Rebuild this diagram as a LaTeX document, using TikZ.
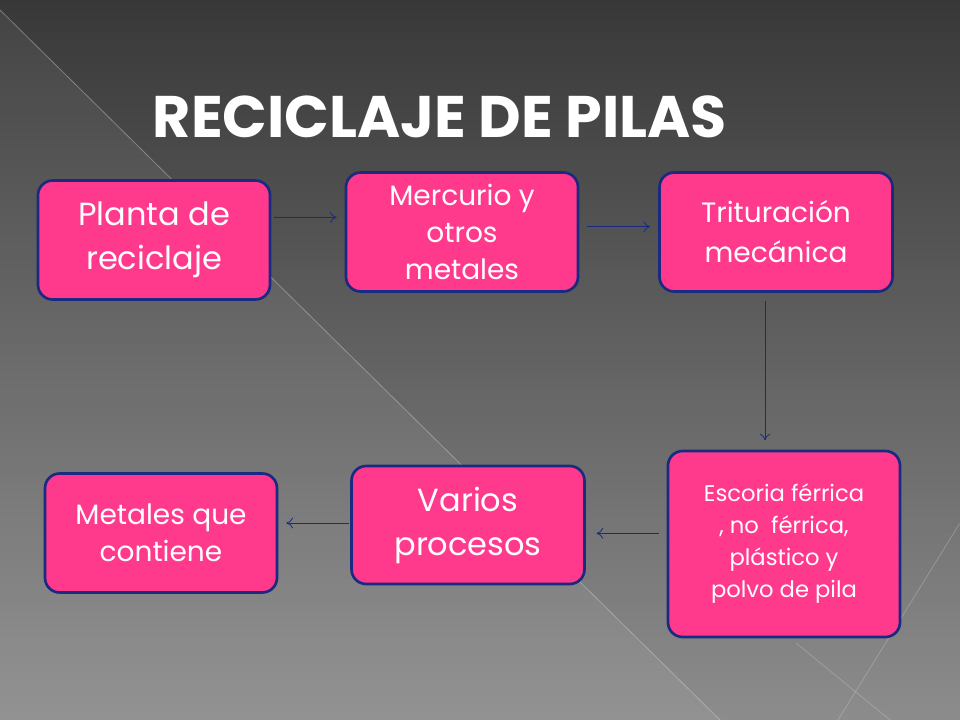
\documentclass[tikz,border=0pt]{standalone}
\usepackage{fontspec}
\setmainfont{Poppins}
\usetikzlibrary{calc,arrows.meta}
\definecolor{boxpink}{HTML}{FF3A8C}
\definecolor{boxline}{HTML}{1A2A80}
\tikzset{
  box/.style={draw=boxline, line width=2pt, fill=boxpink, rounded corners=11pt, text=white, align=center, inner sep=0pt, font=\fontsize{21}{28}\selectfont},
  arr/.style={draw=boxline, line width=0.6pt, -{To[length=5pt,width=8pt]}},
}
\begin{document}
\begin{tikzpicture}[x=0.75pt,y=-0.75pt]
\useasboundingbox (0,0) rectangle (960,720);
\shade[top color=black!78, bottom color=black!45] (0,0) rectangle (960,720);
\fill[white, opacity=0.06] (0,10) -- (720,720) -- (0,720) -- cycle;
\draw[white!70!gray, opacity=0.4, line width=0.6pt] (0,10) -- (720,720);
\draw[white!70!gray, opacity=0.3, line width=0.6pt] (960,523) -- (838,720);
\draw[white!70!gray, opacity=0.3, line width=0.6pt] (796,643) -- (890,720);
\node[text=white, font=\bfseries\fontsize{44}{48}\selectfont, anchor=center] (title) at (440,117) {RECICLAJE DE PILAS};
\node[box, minimum width=232*0.75pt, minimum height=119*0.75pt, font=\fontsize{24}{33}\selectfont] (pl) at (154,240) {Planta de\\reciclaje};
\node[box, minimum width=232*0.75pt, minimum height=119*0.75pt] (me) at (462,232) {Mercurio y\\otros\\metales};
\node[box, minimum width=233*0.75pt, minimum height=119*0.75pt, font=\fontsize{21}{30}\selectfont] (tr) at (776,232) {Trituración\\mecánica};
\node[box, minimum width=232*0.75pt, minimum height=186*0.75pt, font=\fontsize{17}{24}\selectfont] (es) at (784,544) {Escoria férrica\\, no~ férrica,\\plástico y\\polvo de pila};
\node[box, minimum width=233*0.75pt, minimum height=118*0.75pt, font=\fontsize{24}{33}\selectfont] (va) at (468,525) {Varios\\procesos};
\node[box, minimum width=232*0.75pt, minimum height=119*0.75pt] (mt) at (161,533) {Metales que\\contiene};
\draw[arr] ([xshift=2pt,yshift=17pt]pl.east) -- ([xshift=-6pt,yshift=17pt]pl.east -| me.west);
\draw[arr] ([xshift=6pt,yshift=4pt]me.east) -- ([xshift=-6pt,yshift=4pt]me.east -| tr.west);
\draw[arr] ([yshift=-6pt]tr.south -| 765,0) -- ([yshift=7pt]es.north -| 765,0);
\draw[arr] ([xshift=-6pt,yshift=8pt]es.west) -- ([xshift=8pt,yshift=8pt]es.west -| va.east);
\draw[arr] ([xshift=-1pt,yshift=1.5pt]va.west) -- ([xshift=6pt,yshift=1.5pt]va.west -| mt.east);
\end{tikzpicture}
\end{document}
